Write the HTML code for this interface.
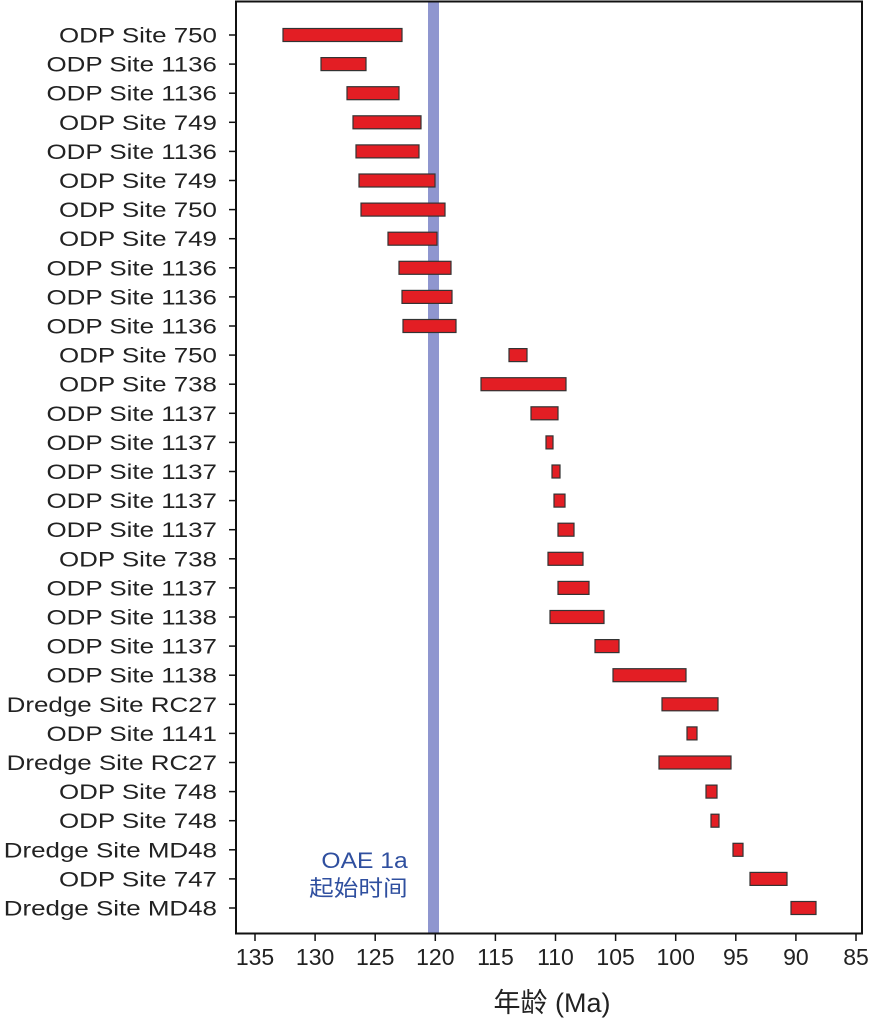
<!DOCTYPE html>
<html><head><meta charset="utf-8"><style>
body{margin:0;background:#fff}
svg text{font-family:"Liberation Sans","Noto Sans CJK SC",sans-serif}
</style></head><body>
<svg width="878" height="1024" xmlns="http://www.w3.org/2000/svg">
<rect x="0" y="0" width="878" height="1024" fill="#fff"/>
<rect x="428" y="2" width="11" height="932" fill="#8f96cf"/>
<rect x="236" y="1.5" width="626" height="932" fill="none" stroke="#111" stroke-width="2"/>
<g transform="scale(1.235,1)"><g id="rows" font-size="21" fill="#222" text-anchor="end"></g></g>
<g id="bars" fill="#e31e24" stroke="#333" stroke-width="1.2"></g>
<g id="ticks" stroke="#111" stroke-width="1.5"></g>
<g id="xl" font-size="23" fill="#222" text-anchor="middle"></g>
<g transform="scale(1.12,1)">
<text x="364" y="868" font-size="22" fill="#2f4f9f" text-anchor="end">OAE 1a</text>
<text x="364" y="896" font-size="22" fill="#2f4f9f" text-anchor="end">起始时间</text>
</g>
<text x="552" y="1012" font-size="27" fill="#222" text-anchor="middle">年龄 (Ma)</text>
</svg>
<script>
const labels=["ODP Site 750","ODP Site 1136","ODP Site 1136","ODP Site 749","ODP Site 1136","ODP Site 749","ODP Site 750","ODP Site 749","ODP Site 1136","ODP Site 1136","ODP Site 1136","ODP Site 750","ODP Site 738","ODP Site 1137","ODP Site 1137","ODP Site 1137","ODP Site 1137","ODP Site 1137","ODP Site 738","ODP Site 1137","ODP Site 1138","ODP Site 1137","ODP Site 1138","Dredge Site RC27","ODP Site 1141","Dredge Site RC27","ODP Site 748","ODP Site 748","Dredge Site MD48","ODP Site 747","Dredge Site MD48"];
const bars=[[283,402],[321,366],[347,399],[353,421],[356,419],[359,435],[361,445],[388,437],[399,451],[402,452],[403,456],[509,527],[481,566],[531,558],[546,553],[552,560],[554,565],[558,574],[548,583],[558,589],[550,604],[595,619],[613,686],[662,718],[687,697],[659,731],[706,717],[711,719],[733,743],[750,787],[791,816]];
const NS="http://www.w3.org/2000/svg";
function el(t,a,p,txt){const e=document.createElementNS(NS,t);for(const k in a)e.setAttribute(k,a[k]);if(txt)e.textContent=txt;document.getElementById(p).appendChild(e);}
labels.forEach((l,i)=>{const y=35+i*29.1;
el("text",{x:(217/1.235).toFixed(1),y:y+7.5},"rows",l);
el("line",{x1:229,x2:236,y1:y,y2:y},"ticks");
el("rect",{x:bars[i][0],y:y-6.5,width:bars[i][1]-bars[i][0],height:13},"bars");});
for(let v=135,k=0;v>=85;v-=5,k++){const x=255+k*60.1;
el("line",{x1:x,x2:x,y1:934,y2:941},"ticks");
el("text",{x:x,y:965},"xl",String(v));}
</script>
</body></html>
